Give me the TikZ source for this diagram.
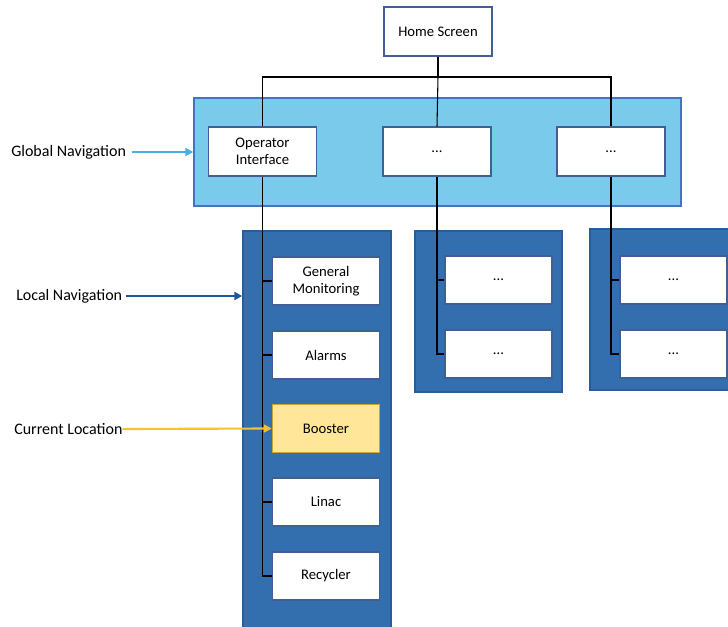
\documentclass[tikz,border=0pt]{standalone}
\usepackage{fontspec}
\setmainfont{Carlito}
\usetikzlibrary{arrows.meta}
\definecolor{globfill}{HTML}{7ACBEB}
\definecolor{globdraw}{HTML}{4472C4}
\definecolor{locfill}{HTML}{336FAE}
\definecolor{locdraw}{HTML}{2A5C98}
\definecolor{boxdraw}{HTML}{3F5F95}
\definecolor{curfill}{HTML}{FFE699}
\definecolor{curdraw}{HTML}{CFA52A}
\definecolor{arrglob}{HTML}{45B0E5}
\definecolor{arrloc}{HTML}{1F56A0}
\definecolor{arrcur}{HTML}{F5C230}
\begin{document}
\begin{tikzpicture}[x=0.75pt,y=-0.75pt,
  wbox/.style={draw=boxdraw,line width=1.1pt,fill=white,minimum width=81pt,minimum height=36.5pt,inner sep=1pt,align=center,font=\fontsize{11}{13}\selectfont},
  curbox/.style={wbox,fill=curfill,draw=curdraw},
  globbox/.style={draw=globdraw,line width=1.1pt,fill=globfill,inner sep=0pt},
  locbox/.style={draw=locdraw,line width=1.1pt,fill=locfill,inner sep=0pt},
  conn/.style={draw=black,line width=0.8pt},
  lbl/.style={inner sep=0pt,font=\fontsize{12}{14}\selectfont},
  pointer/.style={line width=1.6pt,-{Triangle[length=6pt,width=6pt]}}
]
\clip (0,0) rectangle (728,627);
\fill[white] (0,0) rectangle (728,627);
% containers
\node[globbox,minimum width=365.25pt,minimum height=81pt] (glob) at (437.5,152) {};
\node[locbox,minimum width=111pt,minimum height=307pt] (loc1) at (317,435.5) {};
\node[locbox,minimum width=110.25pt,minimum height=120.75pt] (loc2) at (488.5,311.5) {};
\node[locbox,minimum width=112.5pt,minimum height=120.75pt] (loc3) at (665,309.5) {};
% boxes
\node[wbox] (hs) at (438,31.5) {Home Screen};
\node[wbox] (oi) at (262.5,151.5) {Operator\\Interface};
\node[wbox] (g2) at (437,151.5) {...};
\node[wbox] (g3) at (611,151.5) {...};
\node[wbox,minimum width=80.25pt,minimum height=36pt] (gm) at (326,281) {General\\Monitoring};
\node[wbox,minimum width=80.25pt,minimum height=36pt] (al) at (326,355) {Alarms};
\node[curbox,minimum width=80.25pt,minimum height=36pt] (bo) at (326,428.5) {Booster};
\node[wbox,minimum width=80.25pt,minimum height=36pt] (li) at (326,502) {Linac};
\node[wbox,minimum width=80.25pt,minimum height=36pt] (re) at (326,576) {Recycler};
\node[wbox,minimum width=80.25pt,minimum height=36pt] (a1) at (498.5,280) {...};
\node[wbox,minimum width=80.25pt,minimum height=36pt] (a2) at (498.5,354) {...};
\node[wbox,minimum width=80.25pt,minimum height=36pt] (b1) at (673.5,280) {...};
\node[wbox,minimum width=80.25pt,minimum height=36pt] (b2) at (673.5,354) {...};
% connectors
\coordinate (bar) at (0,77);
\draw[conn] (hs.south) -- (hs.south |- bar) -| (oi.north);
\draw[conn] (hs.south |- bar) -| (g3.north);
\draw[conn] (hs.south |- bar) -- (g2.north);
\draw[conn] (oi.south) |- (re.west);
\draw[conn] (oi.south |- gm.west) -- (gm.west);
\draw[conn] (oi.south |- al.west) -- (al.west);
\draw[conn] (oi.south |- li.west) -- (li.west);
\draw[conn] (g2.south) |- (a2.west);
\draw[conn] (g2.south |- a1.west) -- (a1.west);
\draw[conn] (g3.south) |- (b2.west);
\draw[conn] (g3.south |- b1.west) -- (b1.west);
% labels
\node[lbl,anchor=west] (gn) at (11,152) {Global Navigation};
\node[lbl,anchor=west] (ln) at (16,296) {Local Navigation};
\node[lbl,anchor=west] (cl) at (14,429) {Current Location};
\draw[pointer,draw=arrglob,fill=arrglob] ([xshift=4pt]gn.east) -- (glob.west);
\draw[pointer,draw=arrloc,fill=arrloc] ([xshift=3pt]ln.east) -- (ln.east -| loc1.west);
\draw[pointer,draw=arrcur,fill=arrcur] (cl.east) -- (bo.west);
\end{tikzpicture}
\end{document}
